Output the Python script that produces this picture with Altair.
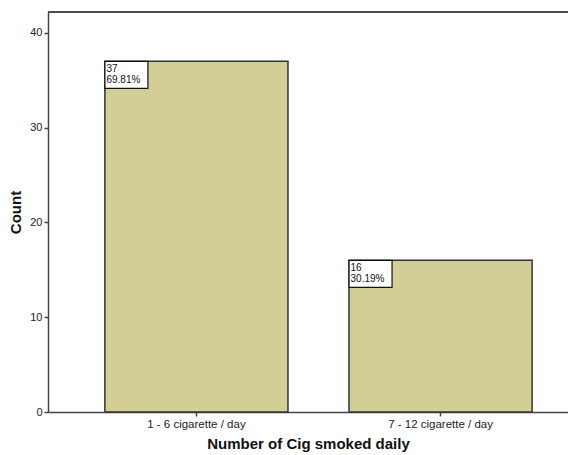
import altair as alt
import pandas as pd

categories = ["1 - 6 cigarette / day", "7 - 12 cigarette / day"]
counts = [37, 16]
percents = ["69.81%", "30.19%"]

df = pd.DataFrame({
    "cat": categories,
    "count": counts,
    "pct": percents,
})
df["label"] = df["count"].astype(str) + "\n" + df["pct"]

FONT = "Liberation Sans"
W = 520

x_enc = alt.X(
    "cat:N",
    sort=categories,
    scale=alt.Scale(paddingInner=0.25, paddingOuter=0.19, align=0.613),
    axis=alt.Axis(
        title="Number of Cig smoked daily",
        labelAngle=0,
        labelFontSize=11.5,
        labelColor="#222",
        labelFont=FONT,
        titleFont=FONT,
        titleFontSize=15,
        titleFontWeight="bold",
        titleColor="#111",
        titlePadding=7,
        tickSize=4,
        tickColor="#444",
        tickWidth=1.5,
        domainColor="#444",
        domainWidth=1.5,
        labelPadding=2,
    ),
)
y_scale = alt.Scale(domain=[0, 42.2], nice=False)
y_enc = alt.Y(
    "count:Q",
    scale=y_scale,
    axis=alt.Axis(
        title="Count",
        values=[0, 10, 20, 30, 40],
        grid=False,
        labelFontSize=11,
        labelColor="#222",
        labelFont=FONT,
        titleFont=FONT,
        titleFontSize=15,
        titleFontWeight="bold",
        titleColor="#111",
        titlePadding=6,
        tickSize=4,
        tickColor="#444",
        tickWidth=1.5,
        domainColor="#444",
        domainWidth=1.5,
        labelPadding=2,
    ),
)

base = alt.Chart(df)

bars = base.mark_bar(color="#D3CE96", stroke="#333", strokeWidth=1.5).encode(
    x=x_enc, y=y_enc
)

boxes = base.mark_bar(
    width=43, xOffset=-70, y2Offset=27, color="white", stroke="#111", strokeWidth=1.2
).encode(
    x=alt.X("cat:N", sort=categories),
    y=alt.Y("count:Q"),
    y2=alt.Y2("count:Q"),
)

texts = base.mark_text(
    align="left", baseline="top", dx=-90, dy=3, fontSize=10, lineHeight=11,
    font=FONT, color="#111", lineBreak="\n",
).encode(
    x=alt.X("cat:N", sort=categories),
    y=alt.Y("count:Q"),
    text="label:N",
)

top_line = alt.Chart(df).mark_rule(color="#444", strokeWidth=1.5).encode(
    x=alt.value(0), x2=alt.value(W), y=alt.value(0)
)

chart = (
    alt.layer(bars, boxes, texts, top_line)
    .properties(
        width=W,
        height=400,
        padding={"left": 40, "top": 4, "right": 0, "bottom": 43},
        autosize="none",
    )
    .configure_view(fill="#F0F0F0", stroke=None)
    .configure(background="white")
)

chart.save("out.html", embed_options={"renderer": "svg", "actions": False})
